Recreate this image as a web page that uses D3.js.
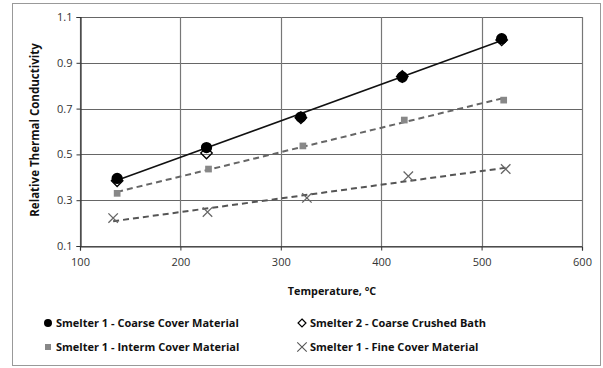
<!DOCTYPE html>
<html><head><meta charset="utf-8">
<script src="https://cdn.jsdelivr.net/npm/d3@7/dist/d3.min.js"></script>
<style>body{margin:0;background:#fff}svg{display:block}</style>
</head><body>
<script>
const coarseT = [137, 226, 320, 421, 520];
const coarseV = [0.395, 0.53, 0.663, 0.838, 1.005];
const bathT = [137, 226, 320, 421, 520];
const bathV = [0.385, 0.506, 0.66, 0.84, 1.0];
const intermT = [137, 228, 322, 423, 522];
const intermV = [0.33, 0.436, 0.537, 0.65, 0.737];
const fineT = [133, 227, 326, 427, 524];
const fineV = [0.222, 0.248, 0.31, 0.405, 0.436];
const xTicks = [100, 200, 300, 400, 500, 600];
const yTicks = [0.1, 0.3, 0.5, 0.7, 0.9, 1.1];
const legendLabels = ["Smelter 1 - Coarse Cover Material", "Smelter 2 - Coarse Crushed Bath",
  "Smelter 1 - Interm Cover Material", "Smelter 1 - Fine Cover Material"];

const W = 603, H = 368;
const svg = d3.select("body").append("svg").attr("width", W).attr("height", H);
const x = d3.scaleLinear().domain([100, 600]).range([80, 582]);
const y = d3.scaleLinear().domain([0.1, 1.1]).range([246, 17]);
const font = "'Open Sans', 'Liberation Sans', sans-serif";

// outer border
svg.append("rect").attr("x", 12.5).attr("y", 3.5).attr("width", 588).attr("height", 362)
  .attr("fill", "none").attr("stroke", "#999").attr("stroke-width", 1);

// grid
const g = svg.append("g");
g.selectAll(".hg").data(yTicks).join("line")
  .attr("x1", x(100)).attr("x2", x(600)).attr("y1", d => Math.round(y(d)) + 0.5).attr("y2", d => Math.round(y(d)) + 0.5)
  .attr("stroke", "#666").attr("stroke-width", 1.2);
g.selectAll(".vg").data(xTicks).join("line")
  .attr("y1", y(0.1)).attr("y2", y(1.1)).attr("x1", d => Math.round(x(d)) + 0.5).attr("x2", d => Math.round(x(d)) + 0.5)
  .attr("stroke", "#777").attr("stroke-width", 1.2);

// axes
const xAxis = svg.append("g").attr("transform", `translate(0,${Math.round(y(0.1)) + 0.5})`)
  .call(d3.axisBottom(x).tickValues(xTicks).tickSize(4).tickPadding(8).tickFormat(d3.format("d")));
const yAxis = svg.append("g").attr("transform", `translate(${Math.round(x(100)) + 0.5},0)`)
  .call(d3.axisLeft(y).tickValues(yTicks).tickSize(4).tickPadding(4).tickFormat(d3.format(".1f")));
[xAxis, yAxis].forEach(a => {
  a.select(".domain").attr("stroke", "#333").attr("stroke-width", 1.2);
  a.selectAll(".tick line").attr("stroke", "#333");
  a.selectAll("text").attr("font-family", font).attr("font-size", 11).attr("fill", "#333");
});

// trendlines
function fit(T, V) {
  const mx = d3.mean(T), my = d3.mean(V);
  const b = d3.sum(T, (t, i) => (t - mx) * (V[i] - my)) / d3.sum(T, t => (t - mx) ** 2);
  const a = my - b * mx;
  const t0 = d3.min(T), t1 = d3.max(T);
  return [[t0, a + b * t0], [t1, a + b * t1]];
}
const line = d3.line().x(d => x(d[0])).y(d => y(d[1]));
svg.append("path").attr("d", line(fit(coarseT, coarseV))).attr("stroke", "#111").attr("stroke-width", 1.6).attr("fill", "none");
svg.append("path").attr("d", line(fit(intermT, intermV))).attr("stroke", "#666").attr("stroke-width", 2).attr("stroke-dasharray", "6,4").attr("fill", "none");
svg.append("path").attr("d", line(fit(fineT, fineV))).attr("stroke", "#555").attr("stroke-width", 2).attr("stroke-dasharray", "6,4").attr("fill", "none");

// markers
const mk = svg.append("g");
const circ = d3.symbol().type(d3.symbolCircle).size(100);
const diam = d3.symbol().type(d3.symbolDiamond2).size(85);
const sq = d3.symbol().type(d3.symbolSquare).size(45);
const cross = d3.symbol().type(d3.symbolTimes).size(60);
mk.selectAll(".c").data(coarseT).join("path").attr("d", circ)
  .attr("transform", (t, i) => `translate(${x(t)},${y(coarseV[i])})`).attr("fill", "#000");
mk.selectAll(".d").data(bathT).join("path").attr("d", diam)
  .attr("transform", (t, i) => `translate(${x(t)},${y(bathV[i])})`).attr("fill", "none").attr("stroke", "#000").attr("stroke-width", 1.3);
mk.selectAll(".s").data(intermT).join("path").attr("d", sq)
  .attr("transform", (t, i) => `translate(${x(t)},${y(intermV[i])})`).attr("fill", "#888");
mk.selectAll(".x").data(fineT).join("path").attr("d", cross)
  .attr("transform", (t, i) => `translate(${x(t)},${y(fineV[i])})`).attr("fill", "none").attr("stroke", "#666").attr("stroke-width", 1.3);

// titles
svg.append("text").attr("x", 332).attr("y", 295).attr("text-anchor", "middle")
  .attr("font-family", font).attr("font-weight", "bold").attr("font-size", 10.8).attr("fill", "#111").text("Temperature, °C");
svg.append("text").attr("transform", `translate(39,130) rotate(-90)`).attr("text-anchor", "middle")
  .attr("font-family", font).attr("font-weight", "bold").attr("font-size", 11.5).attr("fill", "#111").text("Relative Thermal Conductivity");

// legend
const legPos = [[48, 323], [302, 323], [48, 347], [302, 347]];
const legSz = [d3.symbol().type(d3.symbolCircle).size(50), d3.symbol().type(d3.symbolDiamond2).size(40),
  d3.symbol().type(d3.symbolSquare).size(36), d3.symbol().type(d3.symbolTimes).size(60)];
const leg = svg.append("g");
legendLabels.forEach((lab, i) => {
  const [lx, ly] = legPos[i];
  const p = leg.append("path").attr("d", legSz[i]).attr("transform", `translate(${lx},${ly})`);
  if (i === 0) p.attr("fill", "#000");
  if (i === 1) p.attr("fill", "none").attr("stroke", "#000").attr("stroke-width", 1.2);
  if (i === 2) p.attr("fill", "#888");
  if (i === 3) p.attr("fill", "none").attr("stroke", "#555").attr("stroke-width", 1.1);
  leg.append("text").attr("x", lx + 8).attr("y", ly + 4).attr("font-family", font).attr("font-weight", "bold")
    .attr("font-size", 11).attr("fill", "#111").text(lab);
});
</script>
</body></html>
